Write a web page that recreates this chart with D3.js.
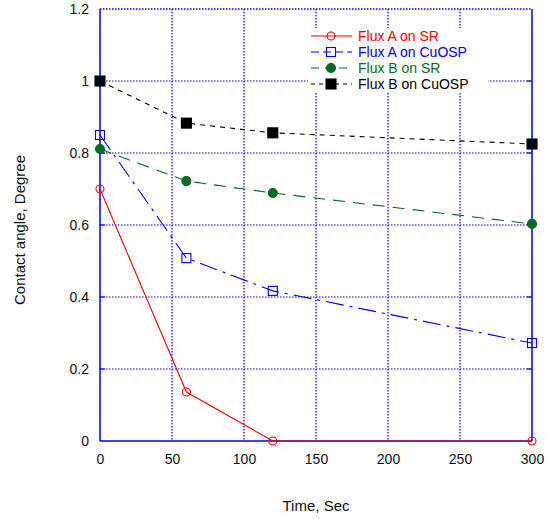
<!DOCTYPE html>
<html>
<head>
<meta charset="utf-8">
<script src="https://cdn.jsdelivr.net/npm/d3@7"></script>
<style>
  html, body { margin: 0; padding: 0; background: #fff; }
  svg { display: block; font-family: "Liberation Sans", Arial, sans-serif; }
</style>
</head>
<body>
<svg id="chart" width="549" height="519"></svg>
<script>
// Sampling times (s)
const times = [0, 60, 120, 300];

// Contact angle readings per flux / substrate
const fluxASR    = [0.70, 0.136, 0.0, 0.0];
const fluxACuOSP = [0.85, 0.508, 0.417, 0.272];
const fluxBSR    = [0.811, 0.722, 0.689, 0.603];
const fluxBCuOSP = [1.0, 0.883, 0.856, 0.825];

const seriesNames = ["Flux A on SR", "Flux A on CuOSP", "Flux B on SR", "Flux B on CuOSP"];

const xTicks = [0, 50, 100, 150, 200, 250, 300];
const yTicks = [0, 0.2, 0.4, 0.6, 0.8, 1, 1.2];

const series = [
  { name: seriesNames[0], values: fluxASR,    color: "#ff0000", dash: null,          marker: "circle", fill: "none" },
  { name: seriesNames[1], values: fluxACuOSP, color: "#0000ff", dash: "18,6,3,6",    marker: "square", fill: "none" },
  { name: seriesNames[2], values: fluxBSR,    color: "#006a1e", dash: "12,8",        marker: "circle", fill: "#006a1e" },
  { name: seriesNames[3], values: fluxBCuOSP, color: "#000000", dash: "5,5",         marker: "square", fill: "#000000" }
];

const svg = d3.select("#chart");
const plotLeft = 100, plotRight = 532, plotTop = 9, plotBottom = 441;

const x = d3.scaleLinear().domain([0, 300]).range([plotLeft, plotRight]);
const y = d3.scaleLinear().domain([0, 1.2]).range([plotBottom, plotTop]);

const gridColor = "#0000ff";

// Dotted grid
const grid = svg.append("g");
grid.selectAll("line.vx").data(xTicks.slice(1, -1)).join("line")
  .attr("x1", d => x(d)).attr("x2", d => x(d))
  .attr("y1", plotTop).attr("y2", plotBottom)
  .attr("stroke", gridColor).attr("stroke-width", 1.2).attr("stroke-dasharray", "1.5,1.5");
grid.selectAll("line.hy").data(yTicks.slice(1, -1)).join("line")
  .attr("y1", d => y(d)).attr("y2", d => y(d))
  .attr("x1", plotLeft).attr("x2", plotRight)
  .attr("stroke", gridColor).attr("stroke-width", 1.2).attr("stroke-dasharray", "1.5,1.5");
// Dotted top edge
svg.append("line").attr("x1", plotLeft).attr("x2", plotRight).attr("y1", plotTop).attr("y2", plotTop)
  .attr("stroke", gridColor).attr("stroke-width", 1.4).attr("stroke-dasharray", "1.5,1.5");

// Axes with labels
const xAxis = d3.axisBottom(x).tickValues(xTicks).tickSize(0).tickPadding(13).tickFormat(d3.format("d"));
const yAxis = d3.axisLeft(y).tickValues(yTicks).tickSize(0).tickPadding(11).tickFormat(d => d === 0 ? "0" : d === 1 ? "1" : d3.format(".1f")(d));

const gx = svg.append("g").attr("transform", `translate(0,${plotBottom})`).call(xAxis);
gx.select(".domain").remove();
gx.selectAll("text").attr("font-size", 14).attr("fill", "#111").attr("font-family", "Liberation Sans, Arial, sans-serif");

const gy = svg.append("g").attr("transform", `translate(${plotLeft},0)`).call(yAxis);
gy.select(".domain").remove();
gy.selectAll("text").attr("font-size", 14).attr("fill", "#111").attr("font-family", "Liberation Sans, Arial, sans-serif");

// Solid frame lines
svg.append("line").attr("x1", plotLeft).attr("x2", plotLeft).attr("y1", plotTop).attr("y2", plotBottom)
  .attr("stroke", gridColor).attr("stroke-width", 1.5);
svg.append("line").attr("x1", plotRight).attr("x2", plotRight).attr("y1", plotTop).attr("y2", plotBottom)
  .attr("stroke", gridColor).attr("stroke-width", 1.5);
svg.append("line").attr("x1", plotLeft).attr("x2", plotRight).attr("y1", plotBottom).attr("y2", plotBottom)
  .attr("stroke", gridColor).attr("stroke-width", 1.5);

// Small inward tick marks
svg.append("g").selectAll("line").data(yTicks.slice(1, -1)).join("line")
  .attr("x1", plotRight - 5).attr("x2", plotRight).attr("y1", d => y(d)).attr("y2", d => y(d))
  .attr("stroke", gridColor).attr("stroke-width", 1.2);
svg.append("g").selectAll("line").data(yTicks.slice(1, -1)).join("line")
  .attr("x1", plotLeft).attr("x2", plotLeft + 5).attr("y1", d => y(d)).attr("y2", d => y(d))
  .attr("stroke", gridColor).attr("stroke-width", 1.2);

// Axis titles
svg.append("text").attr("x", 316).attr("y", 511).attr("text-anchor", "middle")
  .attr("font-size", 15).attr("fill", "#111").text("Time, Sec");
svg.append("text").attr("transform", `translate(25,230) rotate(-90)`)
  .attr("text-anchor", "middle").attr("font-size", 15).attr("fill", "#111").text("Contact angle, Degree");

// Marker drawing helper
function drawMarker(g, s, cx, cy) {
  if (s.marker === "circle") {
    g.append("circle").attr("cx", cx).attr("cy", cy).attr("r", s.fill === "none" ? 4 : 4.5)
      .attr("fill", s.fill === "none" ? "#fff" : s.fill).attr("fill-opacity", s.fill === "none" ? 0 : 1)
      .attr("stroke", s.color).attr("stroke-width", 1.1);
  } else {
    const sz = s.fill === "none" ? 9 : 10;
    g.append("rect").attr("x", cx - sz / 2).attr("y", cy - sz / 2).attr("width", sz).attr("height", sz)
      .attr("fill", s.fill === "none" ? "none" : s.fill)
      .attr("stroke", s.color).attr("stroke-width", 1.1);
  }
}

// Series lines and markers
const line = d3.line().x(d => x(d[0])).y(d => y(d[1]));
series.forEach(s => {
  const pts = times.map((t, i) => [t, s.values[i]]);
  svg.append("path").datum(pts).attr("d", line)
    .attr("fill", "none").attr("stroke", s.color).attr("stroke-width", 1.1)
    .attr("stroke-dasharray", s.dash);
  const g = svg.append("g");
  pts.forEach(p => drawMarker(g, s, x(p[0]), y(p[1])));
});

// Legend
const legend = svg.append("g");
series.forEach((s, i) => {
  const ly = 36 + i * 16;
  legend.append("rect").attr("x", 308).attr("y", ly - 8).attr("width", 180).attr("height", 16).attr("fill", "#fff");
  legend.append("line").attr("x1", 311).attr("x2", 352).attr("y1", ly).attr("y2", ly)
    .attr("stroke", s.color).attr("stroke-width", 1.1)
    .attr("stroke-dasharray", s.dash ? (i === 1 ? "8,4" : i === 2 ? "8,6" : "4,4") : null);
  drawMarker(legend, s, 331, ly);
  legend.append("text").attr("x", 358).attr("y", ly + 5).attr("font-size", 14)
    .attr("fill", s.color).text(s.name);
});
</script>
</body>
</html>
